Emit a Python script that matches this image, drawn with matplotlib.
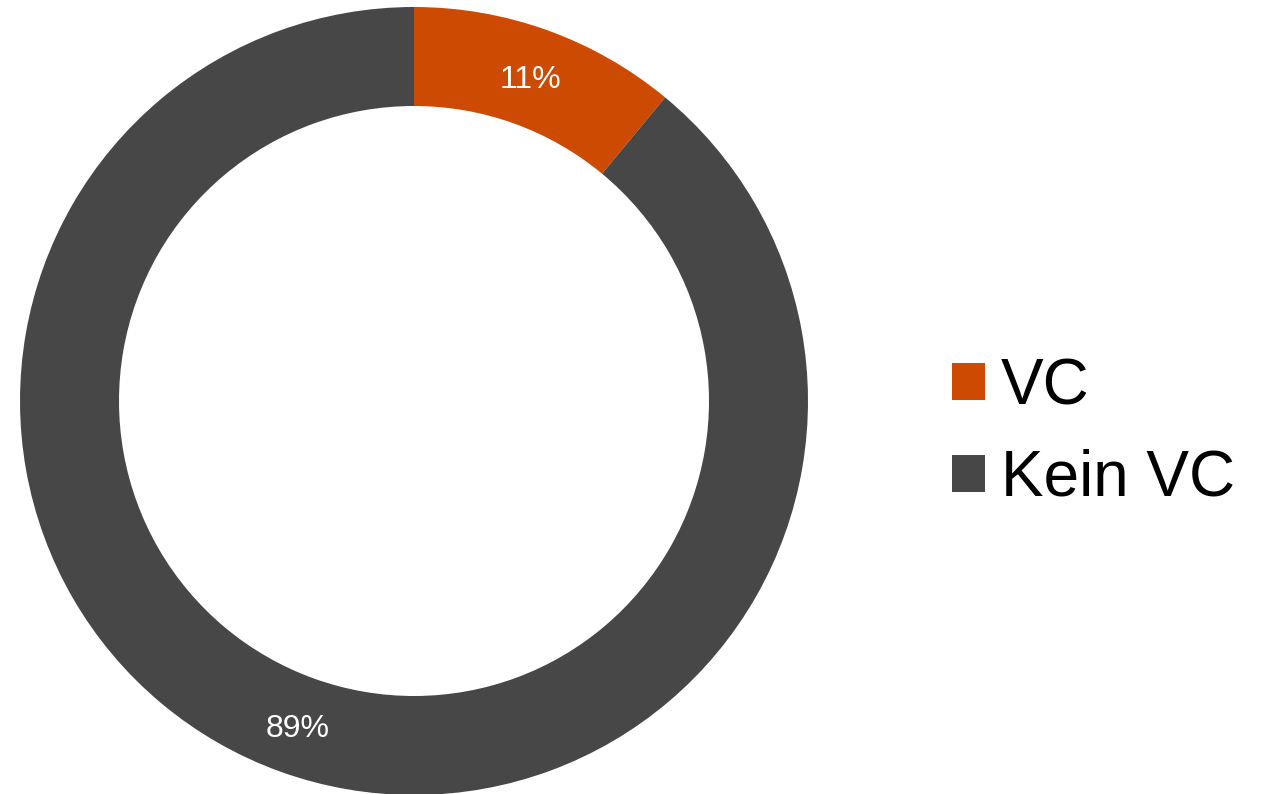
import matplotlib
matplotlib.use("Agg")
import matplotlib.pyplot as plt

categories = ["VC", "Kein VC"]
values = [11, 89]
labels = ["11%", "89%"]
colors = ["#CC4A02", "#474747"]

plt.rcParams['font.family'] = ['Liberation Sans', 'DejaVu Sans']

W, H = 1261, 794
fig = plt.figure(figsize=(W/100, H/100), dpi=100)
cx, cy, R = 414, 401, 394
ax = fig.add_axes([(cx-R)/W, (H-cy-R)/H, 2*R/W, 2*R/H])

inner = 295/394
wedges, texts = ax.pie(values, colors=colors, startangle=90, counterclock=False,
                       radius=1, wedgeprops=dict(width=1-inner, linewidth=0),
                       labels=labels, labeldistance=(1+inner)/2,
                       textprops=dict(color='white', fontsize=23, ha='center', va='center'))
for t in texts:
    x, y = t.get_position()
    t.set_position((x, y - 0.009))
ax.set_xlim(-1, 1)
ax.set_ylim(-1, 1)
ax.set_aspect('equal')
ax.axis('off')

leg = fig.legend(wedges, categories, loc='center left',
                 bbox_to_anchor=(952/W, 1-433/H), frameon=False,
                 fontsize=46, handlelength=0.52, handleheight=0.52,
                 handletextpad=0.25, labelspacing=0.5, borderpad=0, borderaxespad=0)

fig.savefig("out.png", dpi=100)
